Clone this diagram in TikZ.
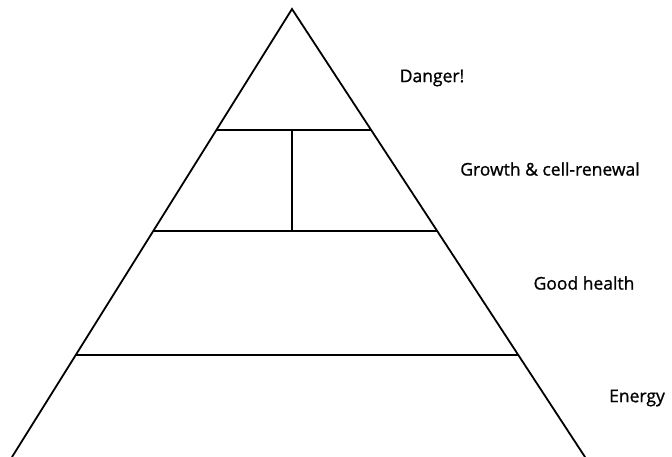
\documentclass[tikz,border=0pt]{standalone}
\usepackage{fontspec}
\setmainfont{Open Sans}
\newfontfamily\lblfont{Open Sans}[FakeBold=1]
\usetikzlibrary{calc}
\tikzset{side/.style={line width=1.8pt, line cap=round, line join=miter},
         band/.style={line width=1.8pt},
         lbl/.style={font=\lblfont\fontsize{17.5}{20}\selectfont, inner sep=0pt}
}

\begin{document}
\begin{tikzpicture}[x=1pt,y=-1pt]
  \useasboundingbox (0,0) rectangle (672,457);
  \coordinate (T) at (292,9);
  \coordinate (BL) at (12,457);
  \coordinate (BR) at (585,457);
  \draw[side] (BL) -- (T) -- (BR);
  % layers
  \coordinate (L1) at ($(T)!0.270!(BL)$);
  \coordinate (R1) at ($(T)!0.270!(BR)$);
  \coordinate (L2) at ($(T)!0.4955!(BL)$);
  \coordinate (R2) at ($(T)!0.4955!(BR)$);
  \coordinate (L3) at ($(T)!0.772!(BL)$);
  \coordinate (R3) at ($(T)!0.772!(BR)$);
  \draw[band] (L1) -- (R1);
  \draw[band] (L2) -- (R2);
  \draw[band] (L3) -- (R3);
  \draw[band] (L1 -| T) -- (L2 -| T);
  \node[lbl] (A) at (432,78)  {Danger!};
  \node[lbl] (B) at (550,169) {Growth \& cell-renewal};
  \node[lbl] (C) at (584,283) {Good health};
  \node[lbl] (D) at (637,398) {Energy};
\end{tikzpicture}
\end{document}
